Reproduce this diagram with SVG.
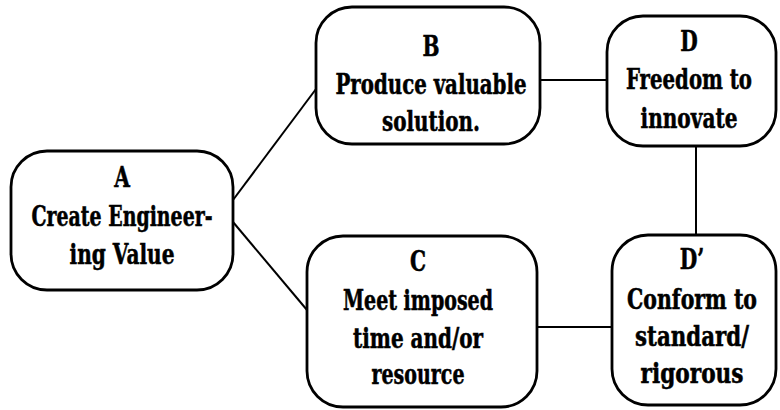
<svg xmlns="http://www.w3.org/2000/svg" width="780" height="410" viewBox="0 0 780 410">
<style>
.box{fill:#fff;stroke:#000;stroke-width:2.8}
.lbl{font-family:"DejaVu Serif","Liberation Serif",serif;font-stretch:condensed;font-weight:bold;font-size:28px;text-anchor:middle;fill:#000;stroke:#000;stroke-width:0.5}
.con{stroke:#000;stroke-width:2;fill:none}
</style>
<rect width="780" height="410" fill="#fff"/>
<g id="connectors">
<line class="con" x1="233" y1="200" x2="316" y2="89"/>
<line class="con" x1="233" y1="222" x2="307" y2="310"/>
<line class="con" x1="540" y1="80" x2="607" y2="80"/>
<line class="con" x1="696" y1="146" x2="696" y2="235"/>
<line class="con" x1="537" y1="327" x2="612" y2="327"/>
</g>
<g id="A">
<rect class="box" x="11" y="151" width="222" height="139" rx="36"/>
<text class="lbl" transform="translate(122 0) scale(0.8 1)"><tspan x="0" y="187">A</tspan><tspan x="0" y="226" textLength="226.25" lengthAdjust="spacingAndGlyphs">Create Engineer-</tspan><tspan x="0" y="264" textLength="131.25" lengthAdjust="spacingAndGlyphs">ing Value</tspan></text>
</g>
<g id="B">
<rect class="box" x="316" y="7" width="224" height="137" rx="36"/>
<text class="lbl" transform="translate(431 0) scale(0.8 1)"><tspan x="0" y="56">B</tspan><tspan x="0" y="94" textLength="238.75" lengthAdjust="spacingAndGlyphs">Produce valuable</tspan><tspan x="0" y="131" textLength="122.5" lengthAdjust="spacingAndGlyphs">solution.</tspan></text>
</g>
<g id="C">
<rect class="box" x="307" y="236" width="230" height="171" rx="36"/>
<text class="lbl" transform="translate(418 0) scale(0.8 1)"><tspan x="0" y="271">C</tspan><tspan x="0" y="310" textLength="187.5" lengthAdjust="spacingAndGlyphs">Meet imposed</tspan><tspan x="0" y="348" textLength="162.5" lengthAdjust="spacingAndGlyphs">time and/or</tspan><tspan x="0" y="384" textLength="116.25" lengthAdjust="spacingAndGlyphs">resource</tspan></text>
</g>
<g id="D">
<rect class="box" x="607" y="16" width="169" height="130" rx="36"/>
<text class="lbl" transform="translate(689 0) scale(0.8 1)"><tspan x="0" y="51">D</tspan><tspan x="0" y="89" textLength="157.5" lengthAdjust="spacingAndGlyphs">Freedom to</tspan><tspan x="0" y="128" textLength="121.25" lengthAdjust="spacingAndGlyphs">innovate</tspan></text>
</g>
<g id="Dprime">
<rect class="box" x="612" y="235" width="164" height="170" rx="36"/>
<text class="lbl" transform="translate(692 0) scale(0.8 1)"><tspan x="0" y="269">D’</tspan><tspan x="0" y="309" textLength="162.5" lengthAdjust="spacingAndGlyphs">Conform to</tspan><tspan x="0" y="346" textLength="142.5" lengthAdjust="spacingAndGlyphs">standard/</tspan><tspan x="0" y="383" textLength="128.75" lengthAdjust="spacingAndGlyphs">rigorous</tspan></text>
</g>
</svg>
